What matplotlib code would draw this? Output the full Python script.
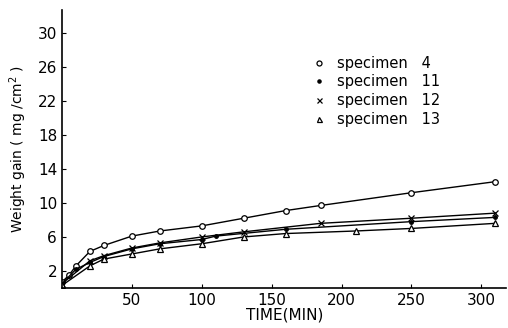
import matplotlib
matplotlib.use("Agg")
import matplotlib.pyplot as plt

plt.rcParams['font.family'] = ['Liberation Sans Narrow', 'DejaVu Sans']

# time (min) and weight gain (mg/cm2)
t4 = [0, 5, 10, 20, 30, 50, 70, 100, 130, 160, 185, 250, 310]
w4 = [0.7, 1.5, 2.6, 4.3, 5.0, 6.1, 6.7, 7.3, 8.2, 9.1, 9.7, 11.2, 12.5]
t11 = [0, 10, 20, 30, 50, 70, 100, 110, 160, 250, 310]
w11 = [0.5, 2.2, 3.0, 3.7, 4.6, 5.2, 5.7, 6.1, 6.9, 7.8, 8.3]
t12 = [0, 20, 30, 50, 70, 100, 130, 185, 250, 310]
w12 = [0.5, 3.2, 3.8, 4.7, 5.3, 6.0, 6.6, 7.6, 8.2, 8.8]
t13 = [0, 20, 30, 50, 70, 100, 130, 160, 210, 250, 310]
w13 = [0.3, 2.6, 3.4, 4.0, 4.6, 5.2, 6.0, 6.4, 6.7, 7.0, 7.6]

labels = ["specimen   4", "specimen   11", "specimen   12", "specimen   13"]
xticks = [50, 100, 150, 200, 250, 300]
yticks = [2, 6, 10, 14, 18, 22, 26, 30]

fig = plt.figure(figsize=(5.08, 3.28), dpi=100)
ax = fig.add_axes([0.122, 0.122, 0.875, 0.848])

ax.plot(t4, w4, '-o', color='k', lw=1.0, ms=4, mfc='white', mew=0.9, label=labels[0])
ax.plot(t11, w11, '-o', color='k', lw=1.0, ms=2.5, label=labels[1])
ax.plot(t12, w12, '-x', color='k', lw=1.0, ms=4, mew=0.9, label=labels[2])
ax.plot(t13, w13, '-^', color='k', lw=1.0, ms=4, mfc='white', mew=0.9, label=labels[3])

ax.set_xlim(0, 318)
ax.set_ylim(0, 32.7)
ax.set_xticks(xticks)
ax.set_yticks(yticks)
ax.tick_params(direction='in', length=3, labelsize=11, width=0.8)
for s in ['top', 'right']:
    ax.spines[s].set_visible(False)
for s in ['left', 'bottom']:
    ax.spines[s].set_linewidth(1.2)

ax.set_xlabel("TIME(MIN)", fontsize=11, labelpad=0)
ax.set_ylabel("Weight gain ( mg /cm$^2$ )", fontsize=10, labelpad=6)

leg = ax.legend(loc='upper left', bbox_to_anchor=(0.549, 0.882), frameon=False,
                fontsize=10.5, handlelength=0, handletextpad=1.2,
                labelspacing=0.25, markerscale=0.9)

plt.savefig("out.png")
